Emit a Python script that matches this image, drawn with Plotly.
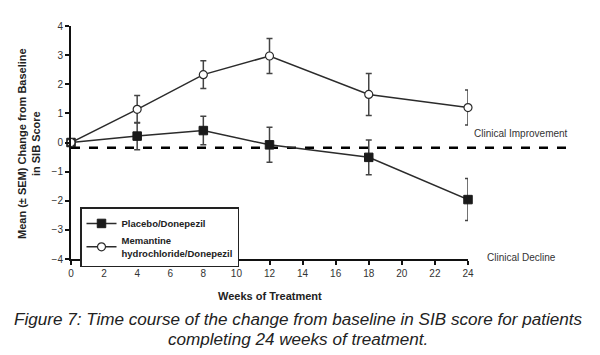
import plotly.graph_objects as go

weeks = [0, 4, 8, 12, 18, 24]
placebo = [0.0, 0.22, 0.41, -0.08, -0.51, -1.96]
placebo_sem = [0.0, 0.47, 0.49, 0.60, 0.60, 0.72]
memantine = [0.0, 1.14, 2.33, 2.97, 1.65, 1.20]
memantine_sem = [0.0, 0.47, 0.48, 0.60, 0.72, 0.60]
baseline_ref = -0.18
x_ticks = list(range(0, 25, 2))
y_ticks = list(range(-4, 5))

OFF = 8  # page body margin
W, H = 600 - OFF, 355 - OFF
L, T = 71 - OFF, 24 - OFF
R = W - (468 - OFF)
B = H - (259 - OFF)
pw, ph = W - L - R, H - T - B

def px(x):
    return (x - OFF - L) / pw

def py(y):
    return (H - B - (y - OFF)) / ph

FONT = "Liberation Sans, Arial, sans-serif"
DARK = "#2b2b2b"

fig = go.Figure()
fig.add_trace(go.Scatter(
    x=weeks, y=placebo, name="Placebo/Donepezil", mode="lines+markers",
    line=dict(color=DARK, width=1.5),
    marker=dict(symbol="square", size=8.5, color="#1a1a1a", line=dict(color="#1a1a1a", width=1)),
    error_y=dict(type="data", array=placebo_sem, color="#444", thickness=1.5, width=3),
    cliponaxis=False,
))
fig.add_trace(go.Scatter(
    x=weeks, y=memantine, name="Memantine<br>hydrochloride/Donepezil", mode="lines+markers",
    line=dict(color=DARK, width=1.5),
    marker=dict(symbol="circle", size=8, color="white", line=dict(color=DARK, width=1.2)),
    error_y=dict(type="data", array=memantine_sem, color="#444", thickness=1.5, width=3),
    cliponaxis=False,
))

fig.add_shape(type="line", xref="paper", yref="y", x0=0, x1=px(573), y0=baseline_ref, y1=baseline_ref,
              line=dict(color="black", width=2.5, dash="dash"), layer="below")

fig.update_layout(
    width=W, height=H, margin=dict(l=L, r=R, t=T, b=B),
    plot_bgcolor="white", paper_bgcolor="white",
    font=dict(family=FONT, color="#333", size=10),
    showlegend=True,
    legend=dict(x=px(80), y=py(207), xanchor="left", yanchor="top",
                bordercolor="#222", borderwidth=1.5, bgcolor="white",
                font=dict(family=FONT, size=9.5, color="#222", weight="bold"),
                tracegroupgap=0, itemwidth=30),
    xaxis=dict(range=[0, 24], tickvals=x_ticks, showgrid=False, zeroline=False,
               showline=True, linecolor="#111", linewidth=2, ticks="outside",
               ticklen=4, tickwidth=2, tickcolor="#111",
               tickfont=dict(size=10, color="#333")),
    yaxis=dict(range=[-4, 4], tickvals=y_ticks, showgrid=False, zeroline=False,
               showline=True, linecolor="#111", linewidth=2, ticks="outside",
               ticklen=4, tickwidth=2, tickcolor="#111",
               tickfont=dict(size=10, color="#333")),
)

ann = [
    dict(text="Mean (± SEM) Change from Baseline<br>in SIB Score", x=px(29), y=py(143),
         textangle=-90, font=dict(size=11, color="#222", weight="bold")),
    dict(text="Weeks of Treatment", x=px(270), y=py(296),
         font=dict(size=11, color="#222", weight="bold")),
    dict(text="Clinical Improvement", x=px(521), y=py(132), font=dict(size=10, color="#333")),
    dict(text="Clinical Decline", x=px(521), y=py(257), font=dict(size=10, color="#333")),
    dict(text="<i>Figure 7: Time course of the change from baseline in SIB score for patients</i>",
         x=px(298), y=py(320), font=dict(size=17.1, color="#222")),
    dict(text="<i>completing 24 weeks of treatment.</i>",
         x=px(298), y=py(340), font=dict(size=17.1, color="#222")),
]
for a in ann:
    fig.add_annotation(xref="paper", yref="paper", showarrow=False,
                       xanchor="center", yanchor="middle", **a)

fig.write_html("out.html")
